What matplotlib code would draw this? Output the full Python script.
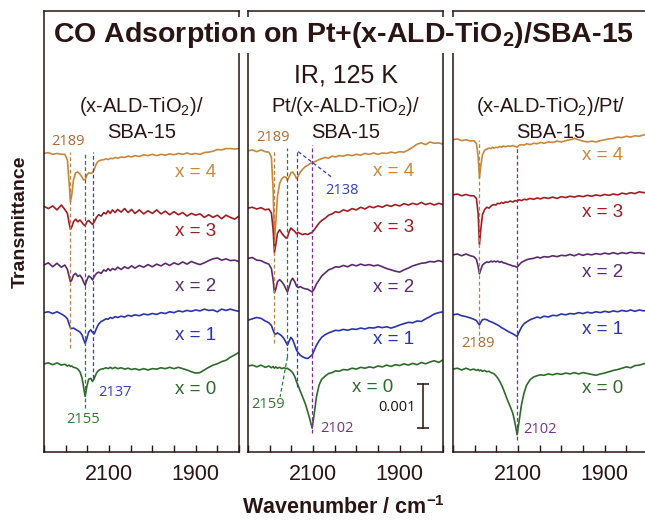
import numpy as np
import matplotlib
matplotlib.use('Agg')
import matplotlib.pyplot as plt

plt.rcParams['font.family'] = 'Liberation Sans'
plt.rcParams['mathtext.fontset'] = 'custom'
plt.rcParams['mathtext.rm'] = 'Liberation Sans'
plt.rcParams['mathtext.it'] = 'Liberation Sans:italic'
plt.rcParams['mathtext.bf'] = 'Liberation Sans:bold'

# wavenumber grid (cm-1), shared by all spectra
wavenumber = [2250, 2240, 2230, 2220, 2210, 2202, 2196, 2192, 2189, 2186,
              2182, 2177, 2172, 2167, 2162, 2159, 2155, 2151, 2147, 2142,
              2138, 2134, 2129, 2124, 2118, 2112, 2107, 2102, 2097, 2092,
              2086, 2080, 2072, 2064, 2056, 2048, 2040, 2030, 2020, 2010,
              2000, 1990, 1980, 1970, 1960, 1950, 1940, 1930, 1920, 1910,
              1900, 1890, 1880, 1870, 1860, 1850, 1840, 1830, 1820, 1810,
              1800]

# transmittance change (units of 0.001) relative to each trace's baseline
# panel 1: (x-ALD-TiO2)/SBA-15
p1_x4 = [0.00, 0.02, -0.02, 0.00, -0.02, -0.02, -0.15, -0.68, -1.10, -0.94,
         -0.60, -0.44, -0.42, -0.47, -0.54, -0.60, -0.59, -0.49, -0.44, -0.45,
         -0.44, -0.36, -0.23, -0.17, -0.15, -0.14, -0.12, -0.14, -0.11, -0.12,
         -0.09, -0.11, -0.08, -0.09, -0.06, -0.08, -0.05, -0.07, -0.03, -0.05,
         -0.02, -0.05, -0.02, -0.04, -0.01, -0.03, 0.00, -0.02, 0.01, -0.02,
         0.00, -0.02, 0.02, 0.03, 0.05, 0.09, 0.08, 0.11, 0.11, 0.10,
         0.11]
p1_x3 = [0.02, -0.03, 0.03, -0.06, 0.05, -0.05, -0.14, -0.36, -0.50, -0.45,
         -0.33, -0.27, -0.33, -0.29, -0.35, -0.39, -0.42, -0.33, -0.30, -0.35,
         -0.39, -0.33, -0.23, -0.17, -0.20, -0.12, -0.15, -0.08, -0.14, -0.06,
         -0.12, -0.05, -0.11, -0.03, -0.12, -0.05, -0.14, -0.06, -0.15, -0.08,
         -0.14, -0.06, -0.15, -0.09, -0.17, -0.10, -0.17, -0.12, -0.20, -0.14,
         -0.18, -0.15, -0.23, -0.17, -0.23, -0.18, -0.26, -0.18, -0.23, -0.27,
         -0.20]
p1_x2 = [0.00, 0.05, -0.04, 0.04, -0.05, 0.00, -0.10, -0.26, -0.38, -0.34,
         -0.23, -0.19, -0.26, -0.23, -0.30, -0.38, -0.46, -0.34, -0.25, -0.28,
         -0.34, -0.26, -0.19, -0.16, -0.19, -0.11, -0.14, -0.08, -0.13, -0.08,
         -0.11, -0.05, -0.10, -0.04, -0.08, -0.02, -0.07, -0.01, -0.05, 0.01,
         -0.04, 0.02, -0.02, 0.04, -0.01, 0.05, 0.01, 0.07, 0.02, 0.08,
         0.04, 0.01, 0.05, 0.10, 0.14, 0.16, 0.11, 0.14, 0.10, 0.11,
         0.08]
p1_x1 = [0.00, 0.02, -0.02, 0.02, -0.03, -0.08, -0.14, -0.26, -0.35, -0.36,
         -0.35, -0.38, -0.41, -0.44, -0.51, -0.60, -0.70, -0.58, -0.44, -0.39,
         -0.45, -0.48, -0.36, -0.26, -0.20, -0.17, -0.14, -0.15, -0.11, -0.13,
         -0.09, -0.11, -0.08, -0.10, -0.06, -0.08, -0.05, -0.07, -0.03, -0.05,
         -0.02, -0.04, 0.00, -0.02, 0.02, 0.00, 0.04, 0.02, 0.05, 0.03,
         0.06, 0.04, 0.08, 0.05, 0.06, 0.02, 0.08, 0.05, 0.08, 0.05,
         0.03]
p1_x0 = [0.00, 0.02, -0.02, 0.02, -0.03, -0.01, -0.05, -0.03, -0.06, -0.05,
         -0.08, -0.09, -0.12, -0.18, -0.33, -0.51, -0.74, -0.51, -0.35, -0.33,
         -0.40, -0.33, -0.21, -0.15, -0.12, -0.11, -0.09, -0.11, -0.08, -0.11,
         -0.08, -0.11, -0.09, -0.12, -0.10, -0.13, -0.11, -0.14, -0.11, -0.14,
         -0.11, -0.12, -0.09, -0.11, -0.08, -0.11, -0.08, -0.11, -0.14, -0.18,
         -0.21, -0.20, -0.14, -0.08, -0.03, 0.00, 0.05, 0.08, 0.15, 0.20,
         0.26]

# panel 2: Pt/(x-ALD-TiO2)/SBA-15
p2_x4 = [0.00, 0.02, -0.02, 0.02, -0.02, -0.03, -0.14, -0.89, -2.03, -1.65,
         -1.04, -0.74, -0.63, -0.59, -0.60, -0.67, -0.59, -0.50, -0.48, -0.55,
         -0.63, -0.57, -0.48, -0.42, -0.36, -0.33, -0.29, -0.27, -0.25, -0.23,
         -0.20, -0.18, -0.15, -0.17, -0.12, -0.14, -0.11, -0.12, -0.09, -0.11,
         -0.08, -0.10, -0.06, -0.08, -0.05, -0.08, -0.05, -0.06, -0.03, -0.05,
         -0.02, -0.03, 0.02, 0.08, 0.15, 0.18, 0.14, 0.20, 0.17, 0.18,
         0.15]
p2_x3 = [0.00, 0.02, -0.02, 0.01, -0.04, -0.02, -0.11, -0.49, -1.01, -0.83,
         -0.57, -0.49, -0.57, -0.63, -0.68, -0.66, -0.53, -0.45, -0.49, -0.53,
         -0.58, -0.55, -0.58, -0.60, -0.58, -0.60, -0.57, -0.55, -0.49, -0.42,
         -0.34, -0.28, -0.23, -0.16, -0.13, -0.08, -0.10, -0.04, -0.07, -0.01,
         -0.04, 0.02, -0.02, 0.04, 0.01, 0.05, 0.02, 0.07, 0.04, 0.08,
         0.05, 0.10, 0.07, 0.11, 0.08, 0.13, 0.08, 0.11, 0.07, 0.11,
         0.08]
p2_x2 = [0.00, 0.02, -0.04, -0.05, -0.10, -0.13, -0.23, -0.49, -0.78, -0.70,
         -0.53, -0.48, -0.53, -0.60, -0.70, -0.76, -0.64, -0.51, -0.45, -0.53,
         -0.63, -0.66, -0.64, -0.67, -0.69, -0.70, -0.73, -0.76, -0.69, -0.58,
         -0.49, -0.40, -0.33, -0.26, -0.23, -0.19, -0.20, -0.16, -0.19, -0.14,
         -0.17, -0.13, -0.16, -0.14, -0.17, -0.15, -0.19, -0.23, -0.26, -0.29,
         -0.31, -0.26, -0.22, -0.17, -0.14, -0.11, -0.10, -0.07, -0.08, -0.05,
         -0.08]
p2_x1 = [0.00, 0.03, 0.06, 0.04, -0.02, -0.06, -0.12, -0.23, -0.30, -0.32,
         -0.29, -0.32, -0.36, -0.42, -0.51, -0.57, -0.47, -0.39, -0.44, -0.57,
         -0.68, -0.74, -0.80, -0.83, -0.86, -0.87, -0.83, -0.79, -0.68, -0.57,
         -0.47, -0.39, -0.33, -0.29, -0.26, -0.23, -0.24, -0.21, -0.23, -0.20,
         -0.21, -0.18, -0.20, -0.17, -0.18, -0.15, -0.17, -0.15, -0.18, -0.15,
         -0.11, -0.08, -0.05, -0.06, -0.02, -0.03, 0.03, 0.08, 0.14, 0.17,
         0.19]
p2_x0 = [0.00, 0.02, -0.02, 0.02, -0.03, 0.00, -0.04, -0.01, -0.05, -0.02,
         -0.05, -0.03, -0.06, -0.04, -0.06, -0.05, -0.08, -0.11, -0.15, -0.24,
         -0.36, -0.45, -0.58, -0.70, -0.85, -1.04, -1.22, -1.41, -1.07, -0.70,
         -0.43, -0.30, -0.23, -0.17, -0.15, -0.11, -0.12, -0.08, -0.09, -0.05,
         -0.07, -0.03, -0.05, -0.02, -0.04, 0.00, -0.02, 0.02, -0.01, 0.03,
         0.01, 0.05, 0.02, 0.06, 0.03, 0.08, 0.05, 0.09, 0.12, 0.08,
         0.14]

# panel 3: (x-ALD-TiO2)/Pt/SBA-15
p3_x4 = [0.00, 0.02, -0.02, 0.00, -0.03, -0.02, -0.08, -0.38, -0.87, -0.60,
         -0.34, -0.24, -0.21, -0.19, -0.20, -0.17, -0.19, -0.17, -0.18, -0.15,
         -0.17, -0.14, -0.16, -0.14, -0.15, -0.13, -0.15, -0.17, -0.12, -0.11,
         -0.12, -0.09, -0.11, -0.08, -0.09, -0.06, -0.08, -0.05, -0.06, -0.03,
         -0.05, -0.02, 0.00, 0.03, 0.00, -0.03, -0.05, -0.03, -0.05, -0.02,
         0.00, 0.02, 0.03, 0.06, 0.05, 0.08, 0.06, 0.09, 0.08, 0.11,
         0.12]
p3_x3 = [0.00, 0.02, -0.02, 0.01, -0.02, -0.02, -0.08, -0.42, -1.13, -0.79,
         -0.45, -0.33, -0.28, -0.30, -0.25, -0.23, -0.22, -0.23, -0.19, -0.20,
         -0.17, -0.19, -0.16, -0.17, -0.14, -0.16, -0.13, -0.14, -0.11, -0.13,
         -0.10, -0.11, -0.08, -0.10, -0.07, -0.09, -0.06, -0.08, -0.05, -0.08,
         -0.04, -0.06, -0.03, -0.05, -0.02, -0.04, -0.01, -0.03, 0.00, -0.02,
         0.01, -0.01, 0.02, 0.00, 0.04, 0.02, 0.05, 0.03, 0.07, 0.05,
         0.07]
p3_x2 = [0.00, 0.02, -0.02, 0.02, -0.02, -0.04, -0.10, -0.26, -0.43, -0.34,
         -0.23, -0.19, -0.16, -0.17, -0.14, -0.16, -0.14, -0.16, -0.14, -0.17,
         -0.15, -0.18, -0.19, -0.21, -0.23, -0.25, -0.26, -0.28, -0.22, -0.17,
         -0.14, -0.11, -0.09, -0.08, -0.05, -0.07, -0.04, -0.05, -0.02, -0.04,
         -0.01, -0.02, 0.01, -0.02, 0.02, -0.01, 0.02, 0.00, 0.03, 0.01,
         0.04, 0.02, 0.05, 0.02, 0.05, 0.03, 0.06, 0.04, 0.05, 0.03,
         0.05]
p3_x1 = [0.00, 0.02, -0.02, -0.04, -0.07, -0.10, -0.13, -0.19, -0.23, -0.17,
         -0.11, -0.10, -0.11, -0.14, -0.16, -0.17, -0.19, -0.21, -0.23, -0.26,
         -0.29, -0.31, -0.34, -0.37, -0.40, -0.43, -0.46, -0.49, -0.38, -0.28,
         -0.20, -0.16, -0.11, -0.08, -0.05, -0.07, -0.03, -0.05, -0.01, -0.02,
         0.02, 0.00, 0.03, 0.02, 0.05, 0.03, 0.06, 0.04, 0.07, 0.05,
         0.08, 0.06, 0.09, 0.07, 0.10, 0.08, 0.11, 0.08, 0.11, 0.09,
         0.11]
p3_x0 = [0.00, 0.02, -0.02, 0.02, -0.02, 0.00, -0.03, -0.01, -0.04, -0.02,
         -0.05, -0.03, -0.06, -0.05, -0.08, -0.09, -0.11, -0.15, -0.20, -0.28,
         -0.36, -0.45, -0.58, -0.71, -0.85, -1.00, -1.22, -1.49, -1.15, -0.81,
         -0.54, -0.36, -0.24, -0.18, -0.15, -0.13, -0.14, -0.11, -0.13, -0.10,
         -0.12, -0.09, -0.11, -0.08, -0.11, -0.08, -0.10, -0.12, -0.14, -0.11,
         -0.09, -0.06, -0.03, -0.01, 0.02, 0.05, 0.03, 0.08, 0.09, 0.12,
         0.14]

# vertical offsets of the stacked traces (x = 4 ... 0), units of 0.001
p1_offsets = [6.77, 5.55, 4.24, 3.16, 2.00]
p2_offsets = [6.83, 5.53, 4.39, 2.99, 1.95]
p3_offsets = [7.08, 5.83, 4.47, 3.11, 1.88]

sample_labels = ['x = 4', 'x = 3', 'x = 2', 'x = 1', 'x = 0']
panel_titles = [['(x-ALD-TiO$_2$)/', 'SBA-15'],
                ['Pt/(x-ALD-TiO$_2$)/', 'SBA-15'],
                ['(x-ALD-TiO$_2$)/Pt/', 'SBA-15']]

colors = ['#c8873a', '#a11d22', '#5a2a6c', '#2a34ad', '#2e6a2b']
ink = '#2a1414'
c_or, c_gr, c_bl, c_pu = '#c08040', '#2f7a2f', '#2f3fc0', '#7a2f90'

spectra = [[p1_x4, p1_x3, p1_x2, p1_x1, p1_x0],
           [p2_x4, p2_x3, p2_x2, p2_x1, p2_x0],
           [p3_x4, p3_x3, p3_x2, p3_x1, p3_x0]]
offsets = [p1_offsets, p2_offsets, p3_offsets]

# peak markers: (wavenumber, y bottom, y top, colour)
markers = [[(2189, 2.36, 6.80, c_or), (2155, 1.00, 6.80, c_gr), (2137, 1.68, 6.80, c_bl)],
           [(2189, 2.47, 6.85, c_or), (2159, 2.15, 6.89, c_gr), (2138, 1.47, 6.80, c_bl),
            (2102, 0.43, 6.96, c_pu)],
           [(2189, 2.65, 7.07, c_or), (2102, 0.27, 6.92, c_pu)]]
# peak labels: (text, wavenumber, y, colour)
peak_labels = [[('2189', 2195, 7.05, '#b06a35'), ('2155', 2160, 0.73, c_gr), ('2137', 2086, 1.34, c_bl)],
               [('2189', 2192, 7.14, '#b06a35'), ('2159', 2204, 1.07, c_gr), ('2102', 2045, 0.54, c_pu),
                ('2138', 2033, 5.94, c_bl)],
               [('2189', 2192, 2.47, '#b06a35'), ('2102', 2049, 0.50, c_pu)]]
label_x = [[1901] * 5, [1915, 1915, 1915, 1915, 1962], [1904] * 5]
label_y = [[6.33, 4.99, 3.76, 2.65, 1.41],
           [6.35, 5.08, 3.72, 2.54, 1.47],
           [6.73, 5.44, 4.06, 2.77, 1.45]]

W, H = 645, 520
fig = plt.figure(figsize=(W / 100, H / 100), dpi=100)
lefts = [44, 248, 453]
axes = []
for i, lp in enumerate(lefts):
    ax = fig.add_axes([lp / W, 1 - 452 / H, 195 / W, 441 / H])
    axes.append(ax)
    ax.set_xlim(2250, 1800)
    ax.set_ylim(0, 10)
    for spec, off, col in zip(spectra[i], offsets[i], colors):
        ax.plot(wavenumber, np.array(spec) + off, color=col, lw=1.2)
    for wn, y0, y1, col in markers[i]:
        ax.plot([wn, wn], [y0, y1], color=col, lw=0.9, ls=(0, (3, 2)))
    for txt, wn, y, col in peak_labels[i]:
        ax.text(wn, y, txt, color=col, fontsize=10.5, family='Open Sans',
                ha='center', va='center')
    for lab, lx, ly, col in zip(sample_labels, label_x[i], label_y[i], colors):
        ax.text(lx, ly, lab, color=col, fontsize=13.5, ha='center', va='center')
    # panel heading
    ax.text(0.5, 1 - 96 / 441, panel_titles[i][0], transform=ax.transAxes,
            ha='center', va='center', fontsize=14.5, color=ink)
    ax.text(0.5, 1 - 122 / 441, panel_titles[i][1], transform=ax.transAxes,
            ha='center', va='center', fontsize=14.5, color=ink)

    ticks = list(range(1800, 2251, 50))
    ax.set_xticks(ticks)
    ax.set_xticklabels([str(t) if t in (2100, 1900) else '' for t in ticks])
    ax.tick_params(axis='x', direction='in', length=5, width=1, color=ink,
                   labelsize=15.5, labelcolor=ink, pad=9)
    ax.set_yticks([])
    for sp in ax.spines.values():
        sp.set_color(ink)
        sp.set_linewidth(1.1)

# extra leaders in middle panel
ax = axes[1]
ax.plot([2159, 2176], [2.15, 1.25], color=c_gr, lw=0.9, ls=(0, (3, 2)))
ax.plot([2134, 2058], [6.81, 6.24], color=c_bl, lw=0.9, ls=(0, (3, 2)))
# scale bar 0.001
ax.plot([1846, 1846], [0.54, 1.54], color='#3a2020', lw=1.2, marker='_', ms=9, mew=1.2)
ax.text(1906, 1.02, '0.001', fontsize=10.5, family='Open Sans', color='#1a1010',
        ha='center', va='center')
ax.text(0.5, 1 - 64 / 441, 'IR, 125 K', transform=ax.transAxes, ha='center',
        va='center', fontsize=18, color=ink)

fig.text(343 / W, 1 - 35 / H, r'CO Adsorption on Pt+(x-ALD-TiO$_\mathbf{2}$)/SBA-15',
         ha='center', va='center', fontsize=20.5, fontweight='bold', color=ink,
         bbox=dict(facecolor='white', edgecolor='none', pad=2))
fig.text(20 / W, 1 - 222 / H, 'Transmittance', rotation=90, ha='center',
         va='center', fontsize=14, fontweight='bold', color=ink)
fig.text(343 / W, 1 - 508 / H, r'Wavenumber / cm$^\mathbf{-1}$', ha='center',
         va='center', fontsize=15.5, fontweight='bold', color=ink)

fig.savefig('out.png', dpi=100)
